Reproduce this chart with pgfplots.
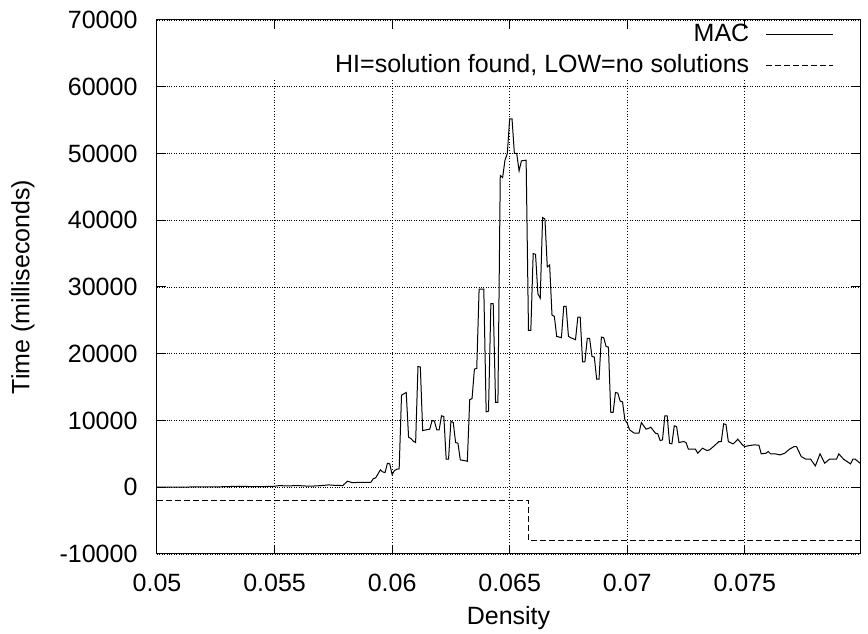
\documentclass[border=0pt]{standalone}
\usepackage{fontspec}
\setmainfont{Liberation Sans}
\usepackage{pgfplots}
\pgfplotsset{compat=1.18}
\begin{document}
\fontsize{25}{26}\selectfont
\begin{tikzpicture}
\path[use as bounding box] (-157pt,-80pt) rectangle (711pt,554pt);
\begin{axis}[
  at={(0pt,0pt)}, anchor=south west,
  scale only axis, width=703pt, height=534pt,
  xmin=0.05, xmax=0.0799, ymin=-10000, ymax=70000,
  xtick={0.05,0.055,0.06,0.065,0.07,0.075},
  xticklabels={0.05,0.055,0.06,0.065,0.07,0.075},
  ytick={-10000,0,10000,20000,30000,40000,50000,60000,70000},
  yticklabels={-10000,0,10000,20000,30000,40000,50000,60000,70000},
  scaled ticks=false,
  tick align=inside, major tick length=9pt,
  axis line style={line width=1pt},
  every tick/.style={black, line width=1pt},
  ymajorgrids, grid style={black, dotted, line width=0.8pt},
  tick label style={font=\fontsize{25}{26}\selectfont},
  xticklabel style={yshift=-12pt},
  yticklabel style={xshift=-11pt},
  xlabel={Density}, ylabel={Time (milliseconds)},
  label style={font=\fontsize{25}{26}\selectfont},
  xlabel style={at={(axis description cs:0.5,0)}, anchor=base, yshift=-71pt},
  ylabel style={at={(axis description cs:-0.1906,0.5)}, anchor=center},
  legend plot pos=right,
  legend cell align=right,
  legend image code/.code={\path[draw=none, fill=none] (0pt,0pt) -- (82pt,0pt); \draw[#1] (15pt,0pt) -- (82pt,0pt);},
  legend style={at={(1,1)}, anchor=north east, xshift=-23pt, yshift=0pt, draw=none, fill=none,
    font=\fontsize{25}{26}\selectfont, row sep=5pt},
]
\pgfplotsinvokeforeach{0.055,0.06,0.065,0.07,0.075}{
  \draw[black, dotted, line width=0.8pt] (axis cs:#1,-10000) -- (axis cs:#1,61000);
}
\addplot[black, line width=1pt] coordinates {
(0.0500,0) (0.0505,0) (0.0510,0) (0.0515,50) (0.0520,50) (0.0525,50)
(0.0530,100) (0.0535,150) (0.0540,100) (0.0545,100) (0.0550,150) (0.0552,250)
(0.0555,200) (0.0560,250) (0.0565,150) (0.0570,250) (0.0573,350) (0.0575,300)
(0.0579,250) (0.0581,900) (0.0583,700) (0.0591,750) (0.0592,1300) (0.0593,1400)
(0.0595,2600) (0.0596,2300) (0.0597,2200) (0.0598,3600) (0.0599,3500) (0.0600,1900)
(0.0601,2500) (0.0602,2700) (0.0603,2750) (0.0604,13800) (0.0606,14200) (0.0607,7500)
(0.0608,7300) (0.0609,6900) (0.0610,6700) (0.0611,18100) (0.0612,18000) (0.0613,8500)
(0.0616,8700) (0.0617,10000) (0.0618,9900) (0.0619,8600) (0.0620,8600) (0.0621,10700)
(0.0622,10600) (0.0623,4200) (0.0624,4200) (0.0625,9900) (0.0626,9700) (0.0627,6700)
(0.0628,6600) (0.0629,4100) (0.0632,3900) (0.0633,13100) (0.0634,13300) (0.0635,17700)
(0.0636,17800) (0.0637,29700) (0.0639,29700) (0.0640,11300) (0.0641,11400) (0.0642,27500)
(0.0643,27500) (0.0644,12700) (0.0645,12700) (0.0646,46700) (0.0647,46400) (0.0648,49000)
(0.0649,50000) (0.0650,55200) (0.0651,55200) (0.0652,50000) (0.0653,50000) (0.0654,47400)
(0.0655,48900) (0.0657,49000) (0.0658,23500) (0.0659,23500) (0.0660,35000) (0.0661,34900)
(0.0662,29000) (0.0663,28300) (0.0664,40400) (0.0665,40200) (0.0666,33000) (0.0667,33300)
(0.0668,25800) (0.0669,25600) (0.0670,22600) (0.0672,22400) (0.0673,27100) (0.0674,27100)
(0.0675,22600) (0.0676,22400) (0.0678,22100) (0.0679,25500) (0.0680,25500) (0.0681,18800)
(0.0682,18800) (0.0683,22300) (0.0684,22300) (0.0685,19600) (0.0686,19500) (0.0687,16200)
(0.0688,16200) (0.0689,22500) (0.0690,22400) (0.0691,21100) (0.0692,21000) (0.0693,11200)
(0.0694,11200) (0.0695,14200) (0.0696,14100) (0.0697,12900) (0.0698,12800) (0.0699,10100)
(0.0700,9600) (0.0701,8600) (0.0703,8100) (0.0705,8100) (0.0706,9700) (0.0708,8700)
(0.0709,8800) (0.0710,9000) (0.0712,8100) (0.0713,8000) (0.0714,7000) (0.0715,7100)
(0.0716,10700) (0.0717,10700) (0.0718,6600) (0.0719,6500) (0.0720,9200) (0.0721,9100)
(0.0722,6700) (0.0724,6850) (0.0725,6700) (0.0726,5700) (0.0729,5700) (0.0730,5100)
(0.0732,5850) (0.0734,5500) (0.0735,5600) (0.0737,6200) (0.0739,6850) (0.0740,6850)
(0.0741,9500) (0.0742,9400) (0.0743,6850) (0.0745,6500) (0.0746,6800) (0.0747,7200)
(0.0749,6350) (0.0750,6100) (0.0752,6250) (0.0754,6350) (0.0756,6300) (0.0757,5000)
(0.0759,5100) (0.0760,5350) (0.0761,5000) (0.0763,5000) (0.0765,4850) (0.0767,5100)
(0.0769,5700) (0.0771,6100) (0.0772,6100) (0.0774,4600) (0.0776,4200) (0.0778,4200)
(0.0780,3200) (0.0782,5000) (0.0784,3600) (0.0786,4200) (0.0789,4200) (0.0790,5000)
(0.0792,4200) (0.0795,3500) (0.0796,4200) (0.0797,4200) (0.0799,3600)
};
\addlegendentry{MAC}
\addplot[black, line width=1pt, dash pattern=on 6pt off 3pt] coordinates {
(0.0500,-2000) (0.0658,-2000) (0.0658,-8000) (0.0799,-8000)
};
\addlegendentry{HI=solution found, LOW=no solutions}
\end{axis}
\end{tikzpicture}
\end{document}
